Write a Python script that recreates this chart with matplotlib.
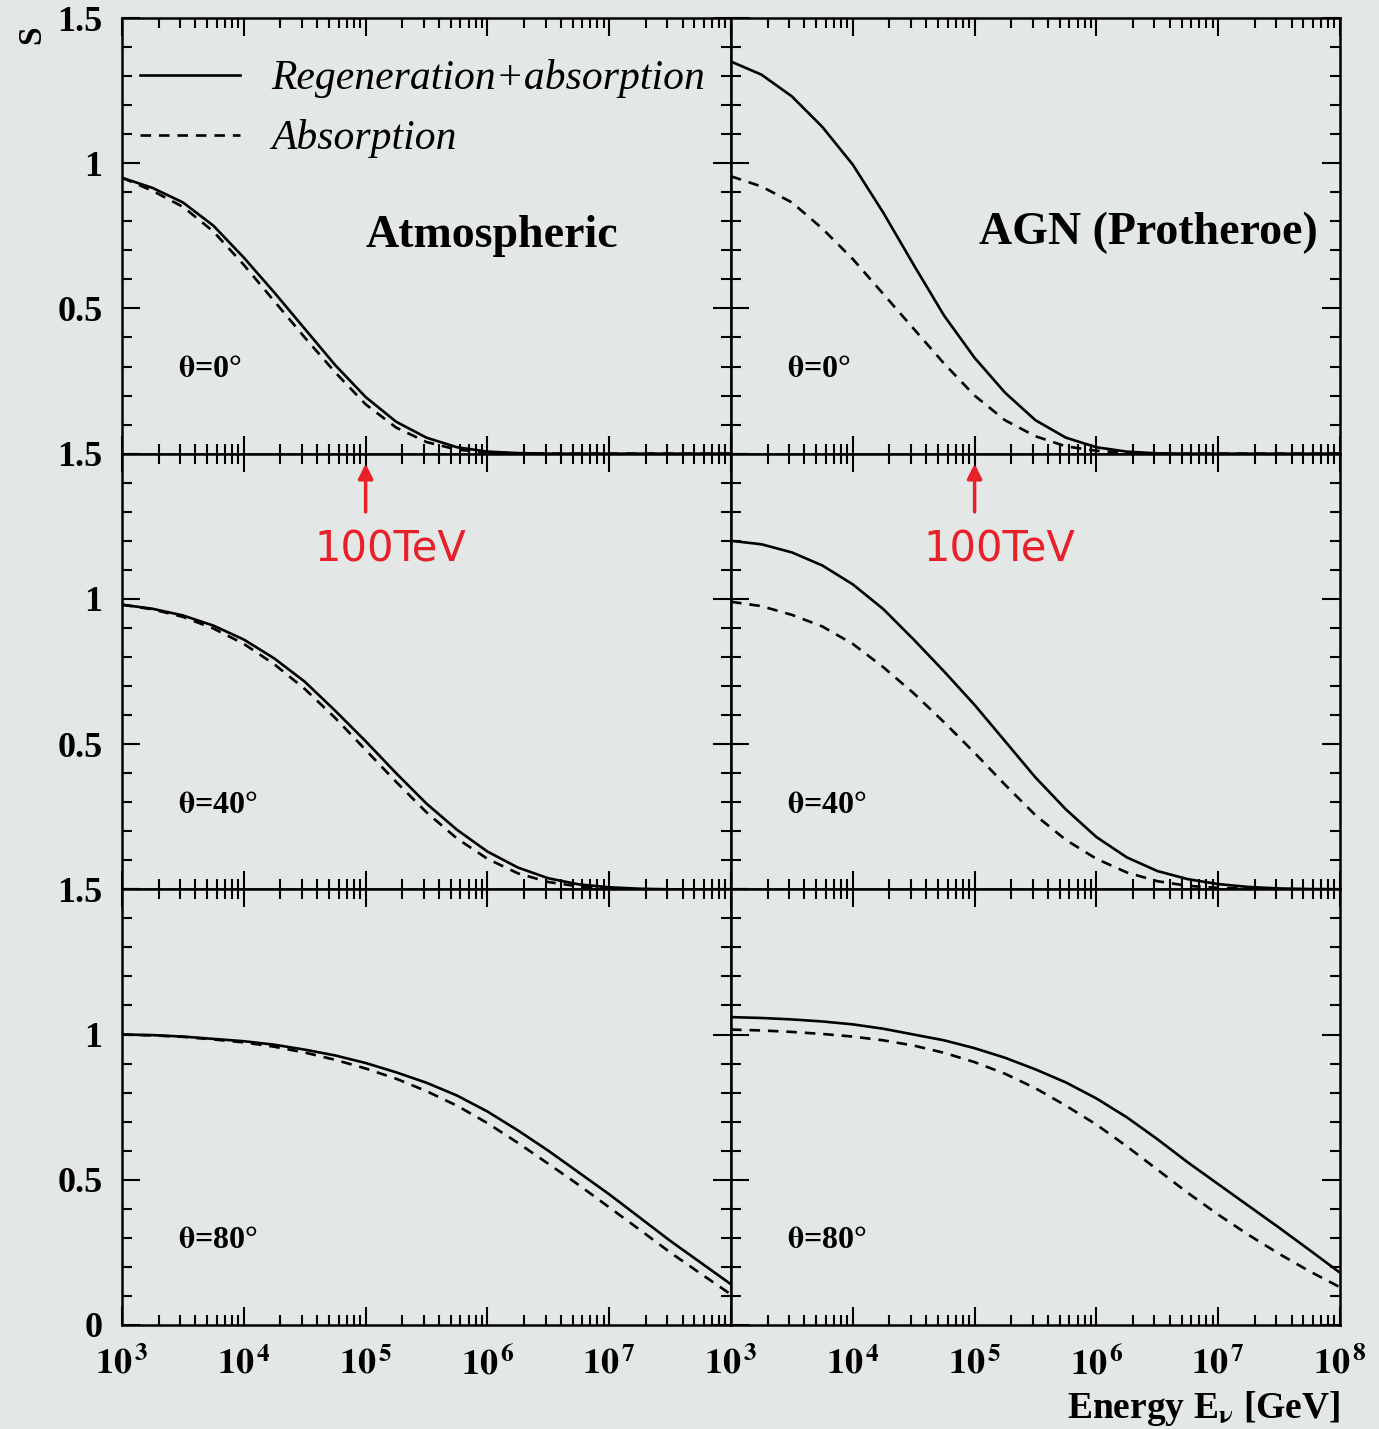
import numpy as np
import matplotlib
matplotlib.use("Agg")
import matplotlib.pyplot as plt
from matplotlib.ticker import FixedLocator, NullFormatter, LogLocator

plt.rcParams['font.family'] = ['Liberation Serif', 'DejaVu Serif']
plt.rcParams['mathtext.fontset'] = 'stix'

# log10 of neutrino energy in GeV
log_energy = [3.0, 3.25, 3.5, 3.75, 4.0, 4.25, 4.5, 4.75, 5.0, 5.25, 5.5,
              5.75, 6.0, 6.25, 6.5, 6.75, 7.0, 7.25, 7.5, 7.75, 8.0]

# Shadow factor S, atmospheric spectrum
atm_0_regen = [0.95, 0.915, 0.865, 0.785, 0.675, 0.555, 0.43, 0.305, 0.195, 0.11, 0.055,
               0.022, 0.007, 0.002, 0.0, 0.0, 0.0, 0.0, 0.0, 0.0, 0.0]
atm_0_abs = [0.95, 0.905, 0.85, 0.765, 0.65, 0.525, 0.40, 0.28, 0.17, 0.09, 0.04,
             0.014, 0.004, 0.001, 0.0, 0.0, 0.0, 0.0, 0.0, 0.0, 0.0]
atm_40_regen = [0.98, 0.966, 0.943, 0.908, 0.86, 0.795, 0.715, 0.615, 0.51, 0.40, 0.295,
                0.205, 0.13, 0.075, 0.038, 0.017, 0.007, 0.002, 0.0, 0.0, 0.0]
atm_40_abs = [0.98, 0.964, 0.938, 0.898, 0.845, 0.775, 0.69, 0.59, 0.48, 0.37, 0.265,
              0.175, 0.105, 0.055, 0.025, 0.01, 0.003, 0.0, 0.0, 0.0, 0.0]
atm_80_regen = [1.0, 0.998, 0.993, 0.985, 0.977, 0.965, 0.948, 0.928, 0.902, 0.87, 0.834,
                0.79, 0.735, 0.67, 0.60, 0.525, 0.45, 0.37, 0.29, 0.215, 0.14]
atm_80_abs = [1.0, 0.997, 0.992, 0.983, 0.973, 0.958, 0.938, 0.913, 0.883, 0.848, 0.805,
              0.755, 0.695, 0.627, 0.555, 0.482, 0.405, 0.328, 0.25, 0.177, 0.105]

# Shadow factor S, AGN spectrum (Protheroe)
agn_0_regen = [1.35, 1.305, 1.23, 1.125, 0.995, 0.83, 0.65, 0.475, 0.33, 0.21, 0.115,
               0.055, 0.022, 0.007, 0.001, 0.0, 0.0, 0.0, 0.0, 0.0, 0.0]
agn_0_abs = [0.955, 0.92, 0.865, 0.775, 0.67, 0.55, 0.43, 0.31, 0.20, 0.115, 0.06,
             0.025, 0.01, 0.003, 0.0, 0.0, 0.0, 0.0, 0.0, 0.0, 0.0]
agn_40_regen = [1.20, 1.188, 1.16, 1.115, 1.05, 0.965, 0.86, 0.75, 0.635, 0.51, 0.385,
                0.275, 0.18, 0.11, 0.063, 0.035, 0.018, 0.008, 0.003, 0.001, 0.0]
agn_40_abs = [0.99, 0.975, 0.945, 0.905, 0.845, 0.765, 0.675, 0.575, 0.47, 0.36, 0.255,
              0.17, 0.105, 0.058, 0.028, 0.012, 0.005, 0.002, 0.0, 0.0, 0.0]
agn_80_regen = [1.06, 1.057, 1.052, 1.045, 1.035, 1.02, 1.0, 0.98, 0.953, 0.92, 0.88,
                0.835, 0.78, 0.715, 0.64, 0.56, 0.485, 0.41, 0.335, 0.258, 0.18]
agn_80_abs = [1.017, 1.014, 1.009, 1.002, 0.993, 0.98, 0.962, 0.937, 0.905, 0.865, 0.815,
              0.755, 0.69, 0.615, 0.535, 0.455, 0.38, 0.31, 0.245, 0.185, 0.13]

angles = ["0", "40", "80"]
panel_titles = ["Atmospheric", "AGN (Protheroe)"]
legend_labels = ["Regeneration+absorption", "Absorption"]
marker_energy_gev = 1e5
marker_label = "100TeV"

curves = [
    [(atm_0_regen, atm_0_abs), (agn_0_regen, agn_0_abs)],
    [(atm_40_regen, atm_40_abs), (agn_40_regen, agn_40_abs)],
    [(atm_80_regen, atm_80_abs), (agn_80_regen, agn_80_abs)],
]

energy = 10.0 ** np.array(log_energy)

bg = '#e3e7e6'
red = '#e8202a'
fig = plt.figure(figsize=(13.79, 14.29), dpi=100, facecolor=bg)
gs = fig.add_gridspec(3, 2, left=0.0885, right=0.9717, top=0.9874, bottom=0.0728,
                      wspace=0, hspace=0)

tick_font = dict(fontsize=26, fontweight='bold')
axes = [[None, None] for _ in range(3)]
for r in range(3):
    for c in range(2):
        ax = fig.add_subplot(gs[r, c])
        axes[r][c] = ax
        ax.set_facecolor(bg)
        regen, absorp = curves[r][c]
        ax.plot(energy, regen, color='black', lw=1.9, ls='-', solid_joinstyle='round')
        ax.plot(energy, absorp, color='black', lw=1.9, ls=(0, (4, 3)))
        ax.set_xscale('log')
        ax.set_xlim(1e3, 1e8)
        ax.set_ylim(0, 1.5)
        for s in ax.spines.values():
            s.set_linewidth(1.8)
        ax.xaxis.set_major_locator(LogLocator(base=10, numticks=10))
        ax.xaxis.set_minor_locator(LogLocator(base=10, subs=np.arange(2, 10), numticks=20))
        ax.xaxis.set_minor_formatter(NullFormatter())
        ax.yaxis.set_major_locator(FixedLocator([0, 0.5, 1.0, 1.5]))
        ax.yaxis.set_minor_locator(FixedLocator(np.arange(0, 1.51, 0.1)))
        ax.tick_params(which='both', direction='in', top=True, right=True, width=1.5)
        ax.tick_params(which='major', length=13)
        ax.tick_params(which='minor', length=7)

        # y tick labels only on the left column
        if c == 0:
            yl = ['', '0.5', '1', '1.5'] if r < 2 else ['0', '0.5', '1', '1.5']
            ax.set_yticklabels(yl, **tick_font)
            ax.tick_params(axis='y', pad=14)
        else:
            ax.set_yticklabels([])

        # x tick labels only on the bottom row
        if r == 2:
            decades = [3, 4, 5, 6, 7] if c == 0 else [3, 4, 5, 6, 7, 8]
            ax.set_xticks([10.0 ** d for d in decades])
            ax.set_xticklabels([r'$\mathbf{10}^{\,\mathbf{%d}}$' % d for d in decades],
                               fontsize=26)
            ax.tick_params(axis='x', pad=16)
        else:
            ax.set_xticklabels([])

        ax.text(10 ** 3.46, 0.29, r'$\mathbf{\theta}$=%s°' % angles[r], fontsize=23,
                fontweight='bold', ha='left', va='center')

# Titles of the two columns
axes[0][0].text(10 ** 6.04, 0.75, panel_titles[0], fontsize=33, fontweight='bold',
                ha='center', va='center')
axes[0][1].text(10 ** 6.43, 0.76, panel_titles[1], fontsize=33, fontweight='bold',
                ha='center', va='center')

# Legend in the upper-left panel
handles = axes[0][0].get_lines()[:2]
axes[0][0].legend(handles, legend_labels, loc='upper left', bbox_to_anchor=(0.03, 0.905),
                  frameon=False, prop=dict(family='Liberation Serif', style='italic', size=30),
                  handlelength=2.4, handletextpad=0.75, labelspacing=0.5,
                  borderaxespad=0, borderpad=0)

# 100 TeV markers below the top row
for c in range(2):
    ax = axes[1][c]
    ax.annotate('', xy=(marker_energy_gev, 1.475), xytext=(marker_energy_gev, 1.29),
                arrowprops=dict(arrowstyle='-|>', color=red, lw=2.5, mutation_scale=22))
    ax.text(marker_energy_gev * 10 ** 0.2, 1.17, marker_label, color=red, fontsize=30,
            family='DejaVu Sans', ha='center', va='center')

fig.text(32 / 1379, 1 - 35 / 1429, 'S', rotation=90, fontsize=24, fontweight='bold',
         ha='center', va='center')
fig.text(1340 / 1379, 1 - 1408 / 1429, r'Energy E$_{\mathbf{\nu}}$ [GeV]', fontsize=27,
         fontweight='bold', ha='right', va='center')

fig.savefig('out.png', dpi=100, facecolor=bg)
